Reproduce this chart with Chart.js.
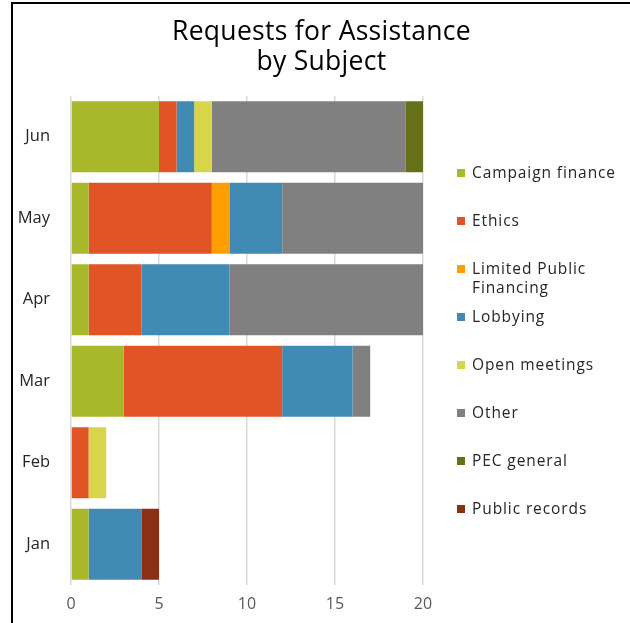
<!DOCTYPE html>
<html><head><meta charset="utf-8">
<script src="https://cdn.jsdelivr.net/npm/chart.js@4"></script>
<style>
html,body{margin:0;padding:0;background:#fff;}
#wrap{position:relative;width:630px;height:623px;overflow:hidden;}
#frame{position:absolute;left:11px;top:2px;right:0;bottom:0;border-left:2px solid #000;border-top:2px solid #000;pointer-events:none;}
#c{position:absolute;left:0;top:0;}
#title{position:absolute;left:13px;right:0;top:15px;text-align:center;font-family:"Open Sans",sans-serif;font-size:26.5px;font-weight:500;line-height:30px;color:#000;letter-spacing:0.3px;}
#legend{position:absolute;left:457px;top:0;font-family:"Open Sans",sans-serif;font-size:15.5px;color:#262626;letter-spacing:0.9px;}
.li{position:absolute;left:0;white-space:nowrap;line-height:19px;}
.li span.b{position:absolute;left:0;top:6px;width:8px;height:8px;}
.li span.t{display:block;padding-left:15px;}
</style></head>
<body>
<div id="wrap"><canvas id="c" width="630" height="623"></canvas><div id="frame"></div>
<div id="title">Requests for Assistance<br>by Subject</div>
<div id="legend"></div></div>
<script>
const months = ['Jan','Feb','Mar','Apr','May','Jun'];
const seriesNames = ['Campaign finance','Ethics','Limited Public Financing','Lobbying','Open meetings','Other','PEC general','Public records'];
const campaignFinance = [1,0,3,1,1,5];
const ethics          = [0,1,9,3,7,1];
const limitedPublic   = [0,0,0,0,1,0];
const lobbying        = [3,0,4,5,3,1];
const openMeetings    = [0,1,0,0,0,1];
const other           = [0,0,1,11,8,11];
const pecGeneral      = [0,0,0,0,0,1];
const publicRecords   = [1,0,0,0,0,0];
const xTicks = [0,5,10,15,20];
const colors = ['#A9B82B','#E05426','#FF9E00','#418AB3','#D9D54A','#808080','#667019','#8A3015'];
const allData = [campaignFinance,ethics,limitedPublic,lobbying,openMeetings,other,pecGeneral,publicRecords];

const datasets = seriesNames.map((n,i)=>({label:n,data:allData[i],backgroundColor:colors[i],borderWidth:0,barPercentage:1,categoryPercentage:0.87}));

new Chart(document.getElementById('c'),{
  type:'bar',
  data:{labels:months,datasets},
  options:{
    indexAxis:'y',responsive:false,animation:false,
    layout:{padding:{left:0,right:207,top:96,bottom:0}},
    plugins:{legend:{display:false},tooltip:{enabled:false},title:{display:false}},
    scales:{
      x:{stacked:true,min:0,max:20,
         afterBuildTicks:(s)=>{s.ticks=xTicks.map(v=>({value:v}));},
         afterFit:(s)=>{s.height=38;},
         grid:{color:'#d9d9d9',lineWidth:1.5,drawTicks:false},border:{display:false},
         ticks:{color:'#595959',padding:10,font:{family:'"Open Sans", sans-serif',size:16}}},
      y:{stacked:true,reverse:true,grid:{display:false},border:{display:false},
         afterFit:(s)=>{s.width=71;},
         ticks:{color:'#262626',padding:13,font:{family:'"Open Sans", sans-serif',size:16.5}}}
    }
  }
});

const lg=document.getElementById('legend');
const tops=[163,211,259,307,355,403,451,499];
const labelHtml=['Campaign finance','Ethics','Limited Public<br>Financing','Lobbying','Open meetings','Other','PEC general','Public records'];
seriesNames.forEach((n,i)=>{
  const d=document.createElement('div');d.className='li';d.style.top=tops[i]+'px';
  d.innerHTML='<span class="b" style="background:'+colors[i]+'"></span><span class="t">'+labelHtml[i]+'</span>';
  lg.appendChild(d);
});
</script>
</body></html>
